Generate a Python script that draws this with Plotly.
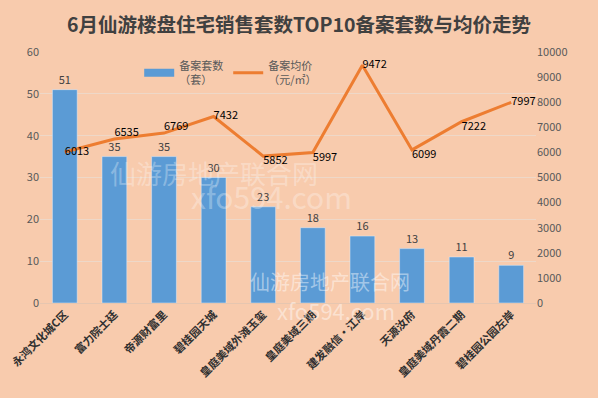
import plotly.graph_objects as go

categories = ["永鸿文化城C区", "富力院士廷", "帝源财富里", "碧桂园天城", "皇庭美域外滩玉玺",
              "皇庭美域三期", "建发融信·江岸", "天源汝府", "皇庭美域丹霞二期", "碧桂园公园左岸"]
units = [51, 35, 35, 30, 23, 18, 16, 13, 11, 9]
prices = [6013, 6535, 6769, 7432, 5852, 5997, 9472, 6099, 7222, 7997]
price_pos = ["middle right", "top right", "top right", "middle right", "bottom right",
             "bottom right", "middle right", "bottom right", "bottom right", "middle right"]
left_ticks = [0, 10, 20, 30, 40, 50, 60]
right_ticks = [0, 1000, 2000, 3000, 4000, 5000, 6000, 7000, 8000, 9000, 10000]

font = "Noto Sans CJK SC"
bg = "#F8CBAD"
blue = "#5B9BD5"
orange = "#ED7D31"

fig = go.Figure()
fig.add_trace(go.Bar(
    x=categories, y=units, name="备案套数<br>（套）", showlegend=False,
    marker_color=blue, width=0.5,
    text=[str(v) for v in units], textposition="outside",
    textfont=dict(size=11, color="#404040", family=font),
    cliponaxis=False,
))
# legend entry for bars drawn as a wide rectangle
fig.add_trace(go.Scatter(
    x=[None], y=[None], name="备案套数<br>（套）", mode="lines",
    line=dict(color=blue, width=8), legendrank=1,
))
fig.add_trace(go.Scatter(
    x=categories, y=prices, name="备案均价<br>（元/㎡）", yaxis="y2",
    mode="lines+text", line=dict(color=orange, width=3), legendrank=2,
    text=[str(v) for v in prices], textposition=price_pos,
    textfont=dict(size=11, color="#000000", family=font),
    cliponaxis=False,
))

fig.update_layout(
    width=598, height=398,
    paper_bgcolor=bg, plot_bgcolor=bg,
    margin=dict(l=40, r=62, t=52, b=95),
    font=dict(family=font, color="#595959", size=11),
    title=dict(text="<b>6月仙游楼盘住宅销售套数TOP10备案套数与均价走势</b>",
               x=0.5, xanchor="center", y=0.937, yanchor="middle",
               font=dict(size=19.5, color="#404040", family=font)),
    bargap=0.5,
    showlegend=True,
    legend=dict(orientation="h", x=0.2, y=1.0, xanchor="left", yanchor="top",
                bgcolor="rgba(0,0,0,0)", font=dict(size=11, color="#595959"),
                itemwidth=30, traceorder="normal"),
    xaxis=dict(tickangle=-45, tickfont=dict(size=11, color="#303030", family=font),
               tickvals=categories, ticktext=["<b>" + c + "</b>" for c in categories],
               showgrid=False, showline=True, linecolor="#E6C6B0", ticks="",
               automargin=False),
    yaxis=dict(range=[0, 60], tickvals=left_ticks, showgrid=True, gridcolor="#EED8C8",
               zeroline=False, tickfont=dict(size=11, color="#595959"), ticks="",
               automargin=False),
    yaxis2=dict(range=[0, 10000], tickvals=right_ticks, ticktext=[str(v) for v in right_ticks],
                overlaying="y", side="right",
                showgrid=False, zeroline=False, tickfont=dict(size=11, color="#595959"), ticks="",
                automargin=False),
)

fig.add_annotation(text="仙游房地产联合网", xref="paper", yref="paper", x=0.35, y=0.52,
                   showarrow=False, font=dict(size=26, color="rgba(255,255,255,0.3)", family=font))
fig.add_annotation(text="xfo594.com", xref="paper", yref="paper", x=0.3, y=0.33,
                   showarrow=False, font=dict(size=30, color="rgba(255,255,255,0.3)", family=font))
fig.add_annotation(text="仙游房地产联合网", xref="paper", yref="paper", x=0.75, y=0.02,
                   showarrow=False, font=dict(size=20, color="rgba(255,255,255,0.45)", family=font))
fig.add_annotation(text="xfo594.com", xref="paper", yref="paper", x=0.72, y=-0.1,
                   showarrow=False, font=dict(size=22, color="rgba(255,255,255,0.45)", family=font))

fig.write_html("out.html", config={"displayModeBar": False},
               post_script="document.body.style.margin='0';")
